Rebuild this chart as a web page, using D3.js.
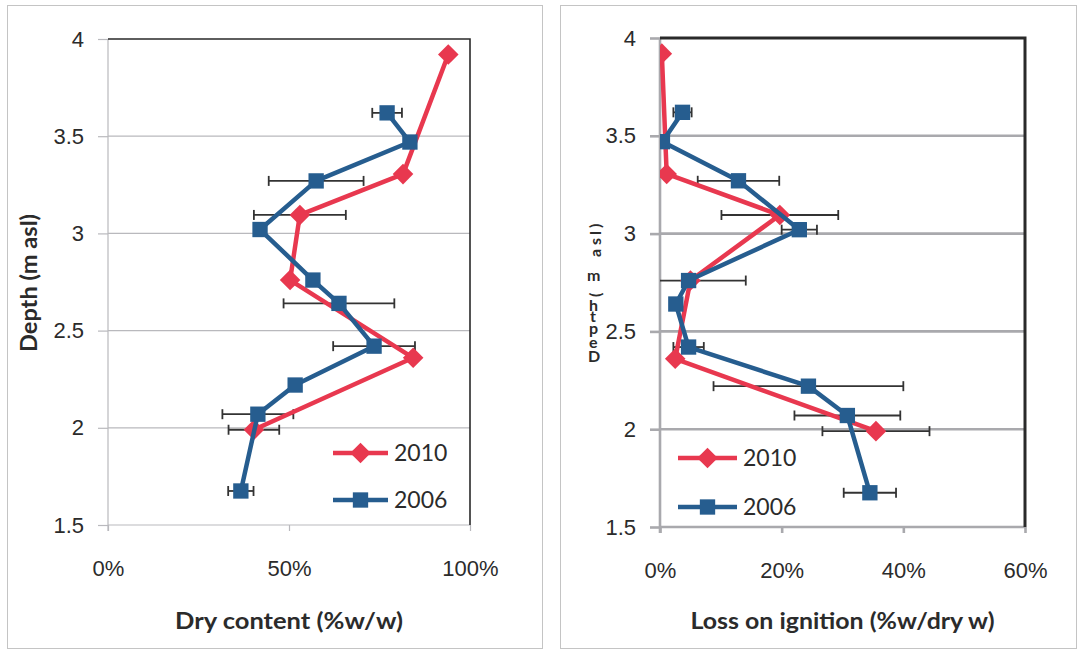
<!DOCTYPE html>
<html>
<head>
<meta charset="utf-8">
<script src="https://cdn.jsdelivr.net/npm/d3@7/dist/d3.min.js"></script>
<style>
  html, body { margin: 0; padding: 0; background: #fff; }
  svg { display: block; font-family: Lato, "Open Sans", sans-serif; }
</style>
</head>
<body>
<svg id="chart" width="1079" height="655"></svg>
<script>
// Sampling depths (m above sea level)
const depth2010 = [3.92, 3.305, 3.095, 2.76, 2.36, 1.99];
const depth2006 = [3.62, 3.47, 3.27, 3.02, 2.76, 2.64, 2.42, 2.22, 2.07, 1.675];

// Dry content (fraction w/w) and standard deviations
const dry2010 = [0.94, 0.815, 0.53, 0.503, 0.843, 0.403];
const dryErr2010 = [0, 0, 0.127, 0, 0, 0.07];
const dry2006 = [0.771, 0.834, 0.575, 0.42, 0.566, 0.638, 0.735, 0.517, 0.414, 0.367];
const dryErr2006 = [0.041, 0, 0.131, 0, 0, 0.153, 0.113, 0, 0.098, 0.035];

// Loss on ignition (fraction w/dry w) and standard deviations
const loi2010 = [0.003, 0.011, 0.197, 0.05, 0.025, 0.355];
const loiErr2010 = [0, 0, 0.096, 0, 0, 0.088];
const loi2006 = [0.037, 0.004, 0.129, 0.229, 0.047, 0.026, 0.047, 0.244, 0.308, 0.345];
const loiErr2006 = [0.015, 0, 0.067, 0.029, 0.094, 0, 0.025, 0.156, 0.087, 0.043];

const depthTicks = [1.5, 2, 2.5, 3, 3.5, 4];
const dryTicks = [0, 0.5, 1];
const loiTicks = [0, 0.2, 0.4, 0.6];
const seriesNames = ["2010", "2006"];

const RED = "#e8384f";
const BLUE = "#265d8f";
const TEXT = "#2b2b2b";
const svg = d3.select("#chart");

function series(depths, vals, errs) {
  return depths.map((d, i) => ({ depth: d, v: vals[i], e: errs[i] }));
}

const diamond = d3.symbol().type(d3.symbolDiamond2).size(270);
const square = d3.symbol().type(d3.symbolSquare).size(235);

function panel(cfg) {
  const g = svg.append("g");
  // outer frame
  g.append("rect").attr("x", cfg.frame[0]).attr("y", cfg.frame[1])
    .attr("width", cfg.frame[2]).attr("height", cfg.frame[3])
    .attr("fill", "#fff").attr("stroke", "#c4c4c4").attr("stroke-width", 1);

  const x = d3.scaleLinear().domain(cfg.xDomain).range([cfg.left, cfg.right]);
  const y = d3.scaleLinear().domain([1.5, 4]).range([cfg.bottom, cfg.top]);

  // horizontal gridlines
  g.selectAll(".grid").data(depthTicks.filter(t => t > 1.5 && t < 4)).join("line")
    .attr("x1", cfg.left).attr("x2", cfg.right)
    .attr("y1", d => y(d)).attr("y2", d => y(d))
    .attr("stroke", cfg.gridColor).attr("stroke-width", cfg.gridWidth);

  // y axis (left, outward ticks)
  const yAxis = g.append("g").attr("transform", `translate(${cfg.left},0)`)
    .call(d3.axisLeft(y).tickValues(depthTicks).tickSize(10).tickPadding(14)
      .tickFormat(d3.format("")));
  yAxis.select(".domain").remove();
  yAxis.selectAll(".tick line").attr("stroke", cfg.gridColor).attr("stroke-width", cfg.gridWidth);
  yAxis.selectAll("text").attr("font-size", 22).attr("fill", TEXT);
  g.append("line").attr("x1", cfg.left).attr("x2", cfg.left)
    .attr("y1", cfg.top).attr("y2", cfg.bottom + 6)
    .attr("stroke", cfg.gridColor).attr("stroke-width", cfg.gridWidth);

  // x axis (bottom)
  const xAxis = g.append("g").attr("transform", `translate(0,${cfg.bottom})`)
    .call(d3.axisBottom(x).tickValues(cfg.xTicks).tickSize(6).tickPadding(29)
      .tickFormat(d3.format(".0%")));
  xAxis.select(".domain").remove();
  xAxis.selectAll(".tick line").attr("stroke", cfg.gridColor).attr("stroke-width", cfg.gridWidth);
  xAxis.selectAll("text").attr("font-size", 22).attr("fill", TEXT);
  g.append("line").attr("x1", cfg.left).attr("x2", cfg.right)
    .attr("y1", cfg.bottom).attr("y2", cfg.bottom)
    .attr("stroke", cfg.gridColor).attr("stroke-width", cfg.gridWidth);

  // dark top and right borders of plot area
  g.append("path")
    .attr("d", `M${cfg.left},${cfg.top}H${cfg.right}V${cfg.bottom}`)
    .attr("fill", "none").attr("stroke", "#2a2a2a").attr("stroke-width", cfg.borderWidth);

  // x-axis title
  g.append("text").attr("x", (cfg.left + cfg.right) / 2).attr("y", 629)
    .attr("text-anchor", "middle").attr("font-weight", "bold").attr("font-size", 22)
    .attr("textLength", cfg.xTitleLen).attr("lengthAdjust", "spacingAndGlyphs")
    .attr("fill", TEXT).text(cfg.xTitle);

  const clipId = "clip" + cfg.id;
  g.append("clipPath").attr("id", clipId).append("rect")
    .attr("x", cfg.left).attr("y", cfg.top - 20)
    .attr("width", cfg.right - cfg.left).attr("height", cfg.bottom - cfg.top + 40);

  const plot = g.append("g").attr("clip-path", `url(#${clipId})`);
  const sets = [
    { data: cfg.s2010, color: RED, sym: diamond },
    { data: cfg.s2006, color: BLUE, sym: square }
  ];

  // error bars
  sets.forEach(s => {
    const eb = plot.append("g").attr("stroke", "#333").attr("stroke-width", 1.8);
    s.data.filter(d => d.e > 0).forEach(d => {
      const x0 = x(d.v - d.e), x1 = x(d.v + d.e), yy = y(d.depth);
      eb.append("line").attr("x1", x0).attr("x2", x1).attr("y1", yy).attr("y2", yy);
      eb.append("line").attr("x1", x0).attr("x2", x0).attr("y1", yy - 5).attr("y2", yy + 5);
      eb.append("line").attr("x1", x1).attr("x2", x1).attr("y1", yy - 5).attr("y2", yy + 5);
    });
  });

  // series lines and markers
  const line = d3.line().x(d => x(d.v)).y(d => y(d.depth));
  sets.forEach(s => {
    plot.append("path").datum(s.data).attr("d", line)
      .attr("fill", "none").attr("stroke", s.color).attr("stroke-width", 4.5)
      .attr("stroke-linejoin", "round");
    plot.selectAll(null).data(s.data).join("path")
      .attr("d", s.sym)
      .attr("transform", d => `translate(${x(d.v)},${y(d.depth)})`)
      .attr("fill", s.color);
  });

  // legend
  sets.forEach((s, i) => {
    const ly = cfg.legendY[i];
    const lg = g.append("g");
    lg.append("line").attr("x1", cfg.legendX).attr("x2", cfg.legendX + cfg.legendLen)
      .attr("y1", ly).attr("y2", ly).attr("stroke", s.color).attr("stroke-width", 4.5);
    lg.append("path").attr("d", s.sym)
      .attr("transform", `translate(${cfg.legendX + cfg.legendLen / 2},${ly})`)
      .attr("fill", s.color);
    lg.append("text").attr("x", cfg.legendX + cfg.legendLen + 6).attr("y", ly + 8)
      .attr("font-size", 23).attr("fill", TEXT).text(seriesNames[i]);
  });

  return { g, x, y };
}

const left = panel({
  id: "dry", frame: [7.5, 5.5, 535, 643],
  left: 108, right: 470, top: 39, bottom: 525,
  xDomain: [0, 1], xTicks: dryTicks,
  gridColor: "#b9b9bd", gridWidth: 1.2, borderWidth: 1.6,
  xTitle: "Dry content (%w/w)", xTitleLen: 228,
  s2010: series(depth2010, dry2010, dryErr2010),
  s2006: series(depth2006, dry2006, dryErr2006),
  legendX: 333, legendLen: 55, legendY: [453, 500]
});

// y-axis title of left panel
left.g.append("text")
  .attr("transform", "translate(37,283) rotate(-90)")
  .attr("text-anchor", "middle").attr("font-weight", "bold").attr("font-size", 22)
  .attr("textLength", 138).attr("lengthAdjust", "spacingAndGlyphs")
  .attr("fill", TEXT).text("Depth (m asl)");

const right = panel({
  id: "loi", frame: [560.5, 5.5, 516, 643],
  left: 660, right: 1025, top: 38, bottom: 527,
  xDomain: [0, 0.6], xTicks: loiTicks,
  gridColor: "#a9a9ad", gridWidth: 2.6, borderWidth: 3,
  xTitle: "Loss on ignition (%w/dry w)", xTitleLen: 304,
  s2010: series(depth2010, loi2010, loiErr2010),
  s2006: series(depth2006, loi2006, loiErr2006),
  legendX: 678, legendLen: 59, legendY: [458, 507]
});

// y-axis title of right panel: one text, glyphs stacked along the axis,
// the lower part upright and the upper part turned
const yTitle = "Depth (m asl)";
const glyphX = [588, 589, 589, 590, 589, 589, 601, 587, 590, 601, 601, 601, 601];
const glyphY = [362, 348, 334, 322, 311, 300, 297, 281, 268, 257, 245, 235, 228];
const glyphRot = [0, 0, 0, 0, 0, 0, -90, 0, 0, -90, -90, -90, -90];
right.g.append("text")
  .attr("x", glyphX.join(" "))
  .attr("y", glyphY.join(" "))
  .attr("rotate", glyphRot.join(" "))
  .attr("font-weight", "bold").attr("font-size", 16).attr("fill", TEXT)
  .text(yTitle);
</script>
</body>
</html>
